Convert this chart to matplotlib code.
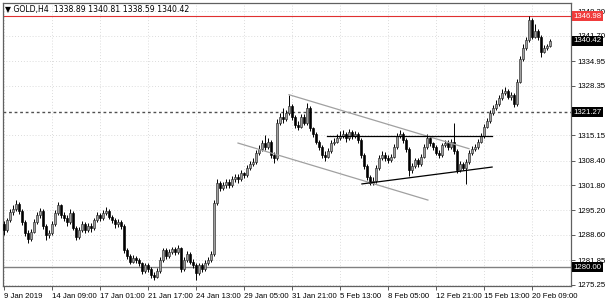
import matplotlib
matplotlib.use('Agg')
import matplotlib.pyplot as plt
import matplotlib.transforms as mtrans

# ---------------- data (GOLD, H4) ----------------
opens = [1291.5, 1290.0, 1292.5, 1294.8, 1295.5, 1296.8, 1295.0, 1292.0, 1289.0, 1287.5,
         1289.5, 1292.0, 1294.0, 1295.0, 1291.0, 1288.5, 1289.0, 1291.5, 1294.5, 1296.5,
         1294.0, 1293.0, 1292.0, 1294.5, 1290.5, 1288.0, 1290.0, 1291.5, 1290.0, 1291.0,
         1290.5, 1292.5, 1294.0, 1293.0, 1294.5, 1295.0, 1293.5, 1292.5, 1291.5, 1292.0,
         1291.0, 1284.5, 1283.0, 1281.5, 1282.5, 1282.0, 1281.0, 1279.0, 1280.5, 1279.5,
         1278.0, 1277.5, 1279.0, 1282.0, 1284.5, 1283.0, 1284.0, 1284.8, 1284.0, 1285.0,
         1279.5, 1282.0, 1283.5, 1281.5, 1280.5, 1278.5, 1280.5, 1279.5, 1281.0, 1282.0,
         1283.5, 1297.0, 1302.5, 1301.0, 1302.0, 1302.8, 1302.0, 1303.5, 1304.0, 1303.5,
         1305.0, 1304.5, 1306.5, 1307.5, 1308.0, 1310.5, 1311.5, 1313.0, 1312.0, 1313.5,
         1310.0, 1309.0, 1318.5, 1320.0, 1319.5, 1321.0, 1323.0, 1320.0, 1318.0, 1317.5,
         1320.0, 1318.5, 1322.5, 1317.0, 1315.5, 1313.5, 1312.0, 1310.0, 1309.5, 1311.0,
         1313.0, 1313.5, 1314.5, 1315.0, 1315.5, 1314.5, 1316.0, 1315.0, 1315.5, 1314.0,
         1310.0, 1307.0, 1304.0, 1302.5, 1303.0, 1306.5, 1309.0, 1310.0, 1309.0, 1308.5,
         1309.5, 1312.0, 1315.0, 1315.5, 1314.0, 1311.5, 1306.0, 1307.0, 1308.5, 1307.5,
         1309.5, 1312.0, 1314.5, 1313.0, 1312.0, 1310.5, 1310.0, 1312.5, 1313.0, 1312.0,
         1313.5, 1311.0, 1306.0, 1307.5, 1306.5, 1308.0, 1310.5, 1311.5, 1312.0, 1313.5,
         1315.0, 1317.5, 1319.0, 1321.0, 1322.5, 1323.5, 1325.0, 1326.5, 1327.0, 1325.5,
         1326.0, 1323.5, 1329.5, 1335.5, 1338.5, 1340.5, 1346.0, 1341.5, 1343.0, 1341.5,
         1337.5, 1338.4, 1338.89]
highs = [1292.3, 1293.2, 1295.6, 1296.5, 1297.8, 1297.5, 1295.5, 1292.5, 1289.8, 1290.2,
         1292.8, 1294.8, 1295.8, 1295.5, 1291.5, 1290.0, 1292.2, 1295.2, 1297.5, 1296.8,
         1294.8, 1293.8, 1295.5, 1295.0, 1291.0, 1290.8, 1292.2, 1292.0, 1291.8, 1291.8,
         1293.2, 1294.8, 1294.5, 1295.2, 1296.0, 1295.5, 1294.0, 1293.0, 1292.8, 1292.5,
         1291.5, 1285.2, 1283.5, 1283.2, 1283.0, 1282.5, 1281.5, 1281.2, 1281.0, 1280.0,
         1278.8, 1279.8, 1282.8, 1285.2, 1285.0, 1284.8, 1285.5, 1285.5, 1285.8, 1285.5,
         1282.8, 1284.2, 1284.0, 1282.2, 1281.0, 1281.2, 1281.0, 1281.8, 1282.8, 1284.2,
         1297.8, 1303.5, 1303.0, 1302.8, 1303.5, 1303.5, 1304.2, 1304.8, 1304.8, 1305.8,
         1305.5, 1307.2, 1308.2, 1309.0, 1311.2, 1312.5, 1314.0, 1315.2, 1314.5, 1314.0,
         1310.8, 1319.5, 1321.0, 1322.5, 1322.0, 1326.0, 1323.5, 1320.5, 1319.0, 1320.8,
         1320.8, 1323.8, 1323.0, 1317.5, 1316.0, 1314.0, 1312.5, 1311.0, 1311.8, 1313.8,
         1314.5, 1315.5, 1316.2, 1316.5, 1316.0, 1316.8, 1316.5, 1316.2, 1316.0, 1314.5,
         1310.5, 1307.5, 1304.5, 1304.0, 1307.2, 1309.8, 1311.0, 1310.8, 1309.8, 1310.2,
         1312.8, 1315.8, 1316.5, 1316.0, 1314.5, 1312.0, 1307.8, 1309.2, 1309.0, 1310.2,
         1312.8, 1315.5, 1315.0, 1313.5, 1312.5, 1311.2, 1313.2, 1314.0, 1313.8, 1314.2,
         1318.5, 1311.5, 1308.2, 1308.0, 1308.8, 1311.2, 1312.2, 1312.8, 1314.2, 1315.8,
         1318.2, 1319.8, 1321.8, 1323.2, 1324.5, 1325.8, 1327.5, 1328.0, 1327.5, 1326.8,
         1326.5, 1330.2, 1336.2, 1339.5, 1341.5, 1346.98, 1346.5, 1344.8, 1343.5, 1342.0,
         1339.2, 1339.5, 1340.81]
lows = [1288.5, 1289.5, 1292.0, 1294.0, 1295.0, 1294.2, 1291.2, 1288.2, 1286.4, 1287.0,
        1289.0, 1291.5, 1293.2, 1290.2, 1287.2, 1287.8, 1288.5, 1291.0, 1294.0, 1293.2,
        1292.2, 1291.0, 1291.5, 1289.8, 1287.2, 1287.5, 1289.5, 1289.2, 1289.5, 1289.5,
        1290.0, 1292.0, 1292.2, 1292.5, 1294.0, 1292.8, 1291.8, 1290.5, 1290.8, 1290.2,
        1283.8, 1282.2, 1280.8, 1281.0, 1281.2, 1280.2, 1278.2, 1278.5, 1278.8, 1277.0,
        1276.5, 1277.0, 1278.5, 1281.5, 1282.2, 1282.5, 1283.5, 1283.2, 1283.5, 1278.8,
        1279.0, 1281.5, 1280.8, 1279.8, 1276.5, 1278.0, 1278.8, 1279.0, 1280.5, 1281.5,
        1283.0, 1296.5, 1300.2, 1300.5, 1301.2, 1301.0, 1301.5, 1302.8, 1302.5, 1303.0,
        1303.8, 1304.0, 1306.0, 1307.0, 1307.5, 1310.0, 1311.0, 1311.2, 1311.5, 1309.0,
        1307.8, 1308.5, 1318.0, 1318.5, 1319.0, 1320.5, 1319.2, 1317.2, 1316.5, 1317.0,
        1317.8, 1318.0, 1316.2, 1314.8, 1312.8, 1311.2, 1309.2, 1308.2, 1309.0, 1310.5,
        1312.5, 1313.0, 1314.0, 1314.5, 1313.5, 1314.0, 1314.2, 1314.5, 1313.2, 1309.2,
        1306.2, 1303.2, 1301.8, 1301.8, 1302.5, 1306.0, 1308.5, 1308.2, 1307.8, 1308.0,
        1309.0, 1311.5, 1314.5, 1313.2, 1310.8, 1304.2, 1305.2, 1306.5, 1306.8, 1307.0,
        1309.0, 1311.5, 1312.2, 1311.2, 1309.8, 1309.2, 1309.5, 1312.0, 1311.2, 1311.5,
        1310.2, 1305.2, 1305.5, 1305.8, 1302.2, 1307.5, 1310.0, 1311.0, 1311.5, 1313.0,
        1314.5, 1317.0, 1318.5, 1320.5, 1322.0, 1323.0, 1324.5, 1326.0, 1324.8, 1324.5,
        1322.8, 1323.0, 1329.0, 1335.0, 1338.0, 1340.0, 1340.8, 1341.0, 1340.5, 1336.0,
        1337.0, 1337.8, 1338.59]
closes = [1290.0, 1292.5, 1294.8, 1295.5, 1296.8, 1295.0, 1292.0, 1289.0, 1287.5, 1289.5,
          1292.0, 1294.0, 1295.0, 1291.0, 1288.5, 1289.0, 1291.5, 1294.5, 1296.5, 1294.0,
          1293.0, 1292.0, 1294.5, 1290.5, 1288.0, 1290.0, 1291.5, 1290.0, 1291.0, 1290.5,
          1292.5, 1294.0, 1293.0, 1294.5, 1295.0, 1293.5, 1292.5, 1291.5, 1292.0, 1291.0,
          1284.5, 1283.0, 1281.5, 1282.5, 1282.0, 1281.0, 1279.0, 1280.5, 1279.5, 1278.0,
          1277.5, 1279.0, 1282.0, 1284.5, 1283.0, 1284.0, 1284.8, 1284.0, 1285.0, 1279.5,
          1282.0, 1283.5, 1281.5, 1280.5, 1278.5, 1280.5, 1279.5, 1281.0, 1282.0, 1283.5,
          1297.0, 1302.5, 1301.0, 1302.0, 1302.8, 1302.0, 1303.5, 1304.0, 1303.5, 1305.0,
          1304.5, 1306.5, 1307.5, 1308.0, 1310.5, 1311.5, 1313.0, 1312.0, 1313.5, 1310.0,
          1309.0, 1318.5, 1320.0, 1319.5, 1321.0, 1323.0, 1320.0, 1318.0, 1317.5, 1320.0,
          1318.5, 1322.5, 1317.0, 1315.5, 1313.5, 1312.0, 1310.0, 1309.5, 1311.0, 1313.0,
          1313.5, 1314.5, 1315.0, 1315.5, 1314.5, 1316.0, 1315.0, 1315.5, 1314.0, 1310.0,
          1307.0, 1304.0, 1302.5, 1303.0, 1306.5, 1309.0, 1310.0, 1309.0, 1308.5, 1309.5,
          1312.0, 1315.0, 1315.5, 1314.0, 1311.5, 1306.0, 1307.0, 1308.5, 1307.5, 1309.5,
          1312.0, 1314.5, 1313.0, 1312.0, 1310.5, 1310.0, 1312.5, 1313.0, 1312.0, 1313.5,
          1311.0, 1306.0, 1307.5, 1306.5, 1308.0, 1310.5, 1311.5, 1312.0, 1313.5, 1315.0,
          1317.5, 1319.0, 1321.0, 1322.5, 1323.5, 1325.0, 1326.5, 1327.0, 1325.5, 1326.0,
          1323.5, 1329.5, 1335.5, 1338.5, 1340.5, 1346.0, 1341.5, 1343.0, 1341.5, 1337.5,
          1338.4, 1338.89, 1340.42]

x_labels = ['9 Jan 2019', '14 Jan 09:00', '17 Jan 01:00', '21 Jan 17:00', '24 Jan 13:00',
            '29 Jan 05:00', '31 Jan 21:00', '5 Feb 13:00', '8 Feb 05:00', '12 Feb 21:00',
            '15 Feb 13:00', '20 Feb 09:00']
bars_per_label = 16
y_ticks = [1275.25, 1281.85, 1288.60, 1295.20, 1301.80, 1308.40, 1315.15,
           1328.35, 1334.95, 1341.70, 1348.30]

symbol = 'GOLD,H4'
resistance_level = 1346.98
pivot_level = 1321.27
support_level = 1280.00
last_price = 1340.42

channel_upper_x, channel_upper_y = [95, 155], [1326.0, 1311.6]
channel_lower_x, channel_lower_y = [78, 141.3], [1313.1, 1297.9]
flat_x, flat_y = [107.7, 162.7], [1315.0, 1315.0]
rising_x, rising_y = [119.3, 162.7], [1302.2, 1306.7]

# ---------------- figure ----------------
FONT = ['Liberation Sans', 'DejaVu Sans']
plt.rcParams['font.family'] = FONT
FS = 5.6

W, H = 606, 305
fig = plt.figure(figsize=(W / 100, H / 100), dpi=100)
fig.patch.set_facecolor('white')
ax = fig.add_axes([3 / W, 19 / H, 568 / W, 283 / H])
ax.set_facecolor('white')

n = len(closes)
idx = list(range(n))

ax.set_xlim(-1 / 3, 189)
ax.set_ylim(1274.98, 1350.45)

# grid
ax.grid(True, color='#d0d0d0', linestyle=(0, (1, 2.5)), linewidth=0.6, zorder=0)

# horizontal levels
ax.axhline(support_level, color='#808080', lw=1.0, zorder=1)
ax.axhline(pivot_level, color='#505050', lw=1.0, linestyle=(0, (2, 2)), zorder=1)
ax.axhline(resistance_level, color='#e03030', lw=0.8, zorder=1)

# candles
ax.vlines(idx, lows, highs, color='black', lw=0.7, zorder=3)
bottoms = [min(o, c) for o, c in zip(opens, closes)]
heights = [max(abs(c - o), 0.15) for o, c in zip(opens, closes)]
faces = ['#a0a0a0' if c >= o else 'black' for o, c in zip(opens, closes)]
edges = ['#2a2a2a' if c >= o else 'black' for o, c in zip(opens, closes)]
ax.bar(idx, heights, bottom=bottoms, width=0.7, color=faces, edgecolor=edges,
       linewidth=0.45, zorder=4)

# trend lines
ax.plot(channel_upper_x, channel_upper_y, color='#a0a0a0', lw=0.9, zorder=5)
ax.plot(channel_lower_x, channel_lower_y, color='#a0a0a0', lw=0.9, zorder=5)
ax.plot(flat_x, flat_y, color='black', lw=0.9, zorder=5)
ax.plot(rising_x, rising_y, color='black', lw=0.9, zorder=5)

# axes styling
for s in ax.spines.values():
    s.set_color('#606060')
    s.set_linewidth(0.9)

ax.set_xticks([k * bars_per_label for k in range(len(x_labels))])
ax.set_xticklabels(x_labels, ha='left', fontsize=FS)
ax.tick_params(axis='x', direction='out', length=3, width=0.6, pad=2, color='#404040')

ax.yaxis.tick_right()
ax.set_yticks(y_ticks)
ax.set_yticklabels(['%.2f' % v for v in y_ticks], fontsize=FS)
ax.tick_params(axis='y', direction='out', length=3, width=0.6, pad=1.5, color='#404040')

# price boxes on the right
tr = mtrans.blended_transform_factory(ax.transAxes, ax.transData)
def price_box(val, fc):
    ax.text(1.004, val, '%.2f' % val, transform=tr, color='white', fontsize=FS,
            va='center', ha='left', clip_on=False, zorder=20,
            bbox=dict(boxstyle='square,pad=0.2', fc=fc, ec='none'))

price_box(resistance_level, '#f03c3c')
price_box(last_price, 'black')
price_box(pivot_level, 'black')
price_box(support_level, 'black')

# header
fig.text(5 / W, 1 - 9.5 / H,
         '\u25bc ' + symbol + '  %.2f %.2f %.2f %.2f' % (opens[-1], highs[-1], lows[-1], closes[-1]),
         fontsize=FS, va='center', ha='left', family=['DejaVu Sans'], color='black')

fig.savefig('out.png', dpi=100)
